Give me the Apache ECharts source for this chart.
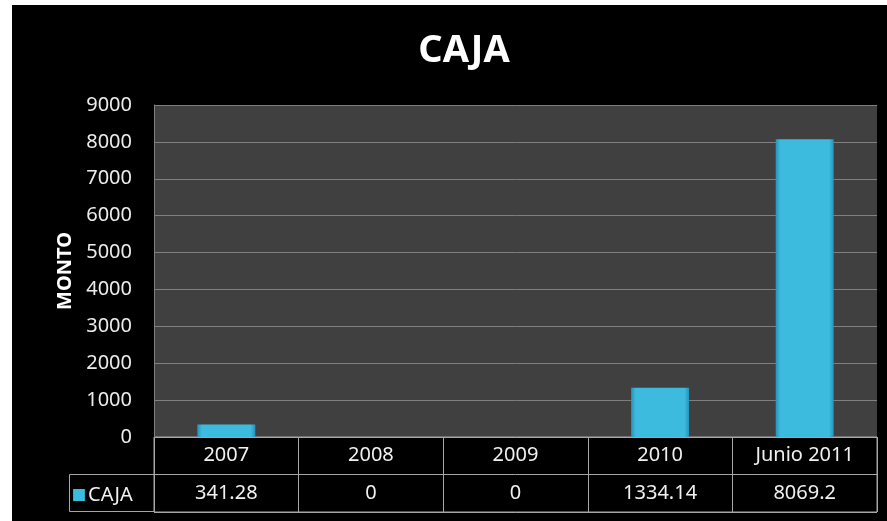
<!DOCTYPE html>
<html>
<head>
<meta charset="utf-8">
<script src="https://cdn.jsdelivr.net/npm/echarts@6/dist/echarts.min.js"></script>
<style>
    html, body { margin: 0; padding: 0; background: #fff; }
    #chart { position: absolute; left: 12px; top: 5px; width: 875px; height: 516px; background: #000; }
</style>
</head>
<body>
<div id="chart"></div>
<script>
    var categories = ['2007', '2008', '2009', '2010', 'Junio 2011'];
    var cajaValues = [341.28, 0, 0, 1334.14, 8069.2];
    var tableRows = ['value', 'header'];

    // celdas de la tabla de datos
    var tableCells = [];
    for (var i = 0; i < categories.length; i++) {
        tableCells.push({ value: [i, 1], text: categories[i] });
        tableCells.push({ value: [i, 0], text: String(cajaValues[i]) });
    }

    var barColor = new echarts.graphic.LinearGradient(0, 0, 1, 0, [
        { offset: 0, color: '#2494b8' },
        { offset: 0.08, color: '#3cbbdf' },
        { offset: 0.92, color: '#3cbbdf' },
        { offset: 1, color: '#2494b8' }
    ]);

    var myChart = echarts.init(document.getElementById('chart'));
    var option = {
        backgroundColor: '#000',
        animation: false,
        textStyle: { fontFamily: 'Noto Sans' },
        title: {
            text: 'CAJA',
            left: 447,
            top: 22,
            textAlign: 'center',
            textStyle: { color: '#fff', fontSize: 38, fontWeight: 'bold', fontFamily: 'Noto Sans' }
        },
        legend: {
            left: 56,
            top: 475,
            icon: 'rect',
            itemWidth: 12,
            itemHeight: 12,
            itemGap: 4,
            data: ['CAJA'],
            textStyle: { color: '#f0f0f0', fontSize: 20, fontFamily: 'Noto Sans', padding: [0, 0, 0, -2] }
        },
        grid: [
            { left: 142, right: 10, top: 100, bottom: 84, show: true, backgroundColor: '#404040', borderWidth: 0 },
            { left: 142, right: 10, top: 432, bottom: 9, show: true, backgroundColor: '#000', borderColor: '#a6a6a6', borderWidth: 1 }
        ],
        xAxis: [
            {
                type: 'category', gridIndex: 0, data: categories,
                axisLine: { show: false }, axisTick: { show: false }, axisLabel: { show: false }
            },
            {
                type: 'category', gridIndex: 1, data: categories,
                axisLine: { show: false }, axisTick: { show: false }, axisLabel: { show: false },
                splitLine: { show: true, interval: 0, lineStyle: { color: '#a6a6a6', width: 1 } }
            }
        ],
        yAxis: [
            {
                type: 'value', gridIndex: 0, min: 0, max: 9000, interval: 1000,
                name: 'MONTO', nameLocation: 'middle', nameGap: 78, nameRotate: 90,
                nameTextStyle: { color: '#fff', fontSize: 20, fontWeight: 'bold', fontFamily: 'Noto Sans' },
                axisLine: { show: true, lineStyle: { color: '#808080' } },
                axisTick: { show: false },
                axisLabel: {
                    color: '#ececec', fontSize: 20, margin: 22, fontFamily: 'Noto Sans',
                    formatter: function (v) { return String(v); }
                },
                splitLine: { lineStyle: { color: '#7f7f7f', width: 1 } }
            },
            {
                type: 'category', gridIndex: 1, data: tableRows,
                axisLine: { show: false }, axisTick: { show: false }, axisLabel: { show: false },
                splitLine: { show: true, interval: 0, lineStyle: { color: '#a6a6a6', width: 1 } }
            }
        ],
        graphic: [
            {
                type: 'rect',
                shape: { x: 57.5, y: 469.5, width: 85, height: 37 },
                style: { fill: 'none', stroke: '#a6a6a6', lineWidth: 1 }
            }
        ],
        series: [
            {
                name: 'CAJA',
                type: 'bar',
                xAxisIndex: 0,
                yAxisIndex: 0,
                barWidth: 58,
                data: cajaValues,
                itemStyle: { color: barColor, borderWidth: 0 }
            },
            {
                type: 'custom',
                xAxisIndex: 1,
                yAxisIndex: 1,
                silent: true,
                data: tableCells,
                renderItem: function (params, api) {
                    var p = api.coord([api.value(0), api.value(1)]);
                    return {
                        type: 'text',
                        style: {
                            text: tableCells[params.dataIndex].text,
                            x: p[0],
                            y: p[1],
                            textAlign: 'center',
                            textVerticalAlign: 'middle',
                            align: 'center',
                            verticalAlign: 'middle',
                            fill: '#f0f0f0',
                            font: '20px "Noto Sans"'
                        }
                    };
                }
            }
        ]
    };
    myChart.setOption(option);
</script>
</body>
</html>
